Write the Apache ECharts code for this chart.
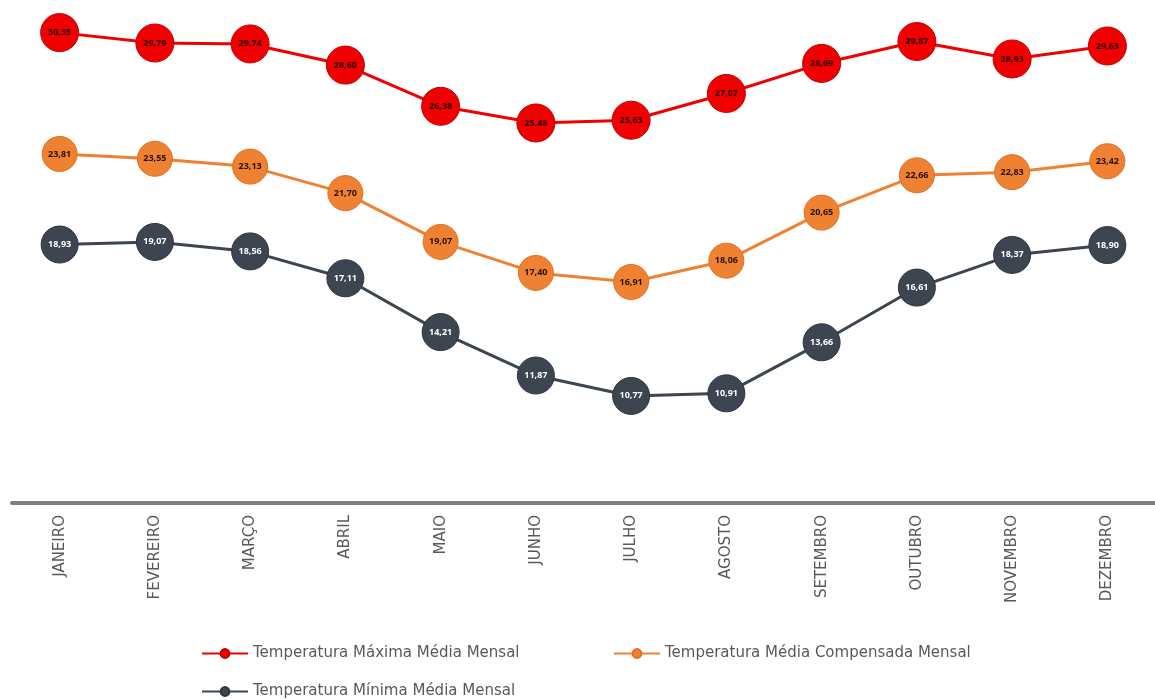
<!DOCTYPE html>
<html>
<head>
<meta charset="utf-8">
<script src="https://cdn.jsdelivr.net/npm/echarts@6/dist/echarts.min.js"></script>
<style>
  html, body { margin: 0; padding: 0; background: #ffffff; }
  #chart { width: 1155px; height: 700px; }
</style>
</head>
<body>
<div id="chart"></div>
<script>
// Monthly temperature normals (°C)
const months = ['JANEIRO', 'FEVEREIRO', 'MARÇO', 'ABRIL', 'MAIO', 'JUNHO', 'JULHO', 'AGOSTO', 'SETEMBRO', 'OUTUBRO', 'NOVEMBRO', 'DEZEMBRO'];
const tempMax = [30.35, 29.79, 29.74, 28.60, 26.38, 25.48, 25.63, 27.07, 28.69, 29.87, 28.93, 29.63];
const tempMed = [23.81, 23.55, 23.13, 21.70, 19.07, 17.40, 16.91, 18.06, 20.65, 22.66, 22.83, 23.42];
const tempMin = [18.93, 19.07, 18.56, 17.11, 14.21, 11.87, 10.77, 10.91, 13.66, 16.61, 18.37, 18.90];

const nameMax = 'Temperatura Máxima Média Mensal';
const nameMed = 'Temperatura Média Compensada Mensal';
const nameMin = 'Temperatura Mínima Média Mensal';

const fmt = p => p.value.toFixed(2).replace('.', ',');

function lineSeries(name, data, color, border, labelColor, size) {
  return {
    name: name,
    type: 'line',
    data: data,
    symbol: 'circle',
    symbolSize: size,
    lineStyle: { color: color, width: 3 },
    itemStyle: { color: color, borderColor: border, borderWidth: 1 },
    label: {
      show: true,
      position: 'inside',
      formatter: fmt,
      color: labelColor,
      fontFamily: 'Open Sans',
      fontWeight: 'bold',
      fontSize: 9
    },
    emphasis: { disabled: true },
    animation: false
  };
}

const legendText = { color: '#595959', fontFamily: 'DejaVu Sans', fontSize: 15 };
function legendAt(name, left, top) {
  return {
    data: [name],
    left: left,
    top: top,
    itemWidth: 46,
    itemHeight: 11,
    itemGap: 4,
    textStyle: legendText,
    selectedMode: false
  };
}

const chart = echarts.init(document.getElementById('chart'), null, { renderer: 'canvas' });
chart.setOption({
  backgroundColor: '#ffffff',
  grid: { left: 12, width: 1154, top: 2, height: 501 },
  xAxis: {
    type: 'category',
    data: months,
    boundaryGap: true,
    axisLine: { show: true, lineStyle: { color: '#7f7f7f', width: 4 } },
    axisTick: { show: false },
    axisLabel: {
      interval: 0,
      rotate: 90,
      margin: 12,
      color: '#595959',
      fontFamily: 'DejaVu Sans',
      fontSize: 15
    }
  },
  yAxis: {
    type: 'value',
    min: 5,
    max: 32,
    show: false,
    splitLine: { show: false }
  },
  legend: [
    legendAt(nameMax, 196, 641),
    legendAt(nameMed, 608, 641),
    legendAt(nameMin, 196, 679)
  ],
  series: [
    lineSeries(nameMax, tempMax, '#f00000', '#c00000', '#2a0000', 38),
    lineSeries(nameMed, tempMed, '#ef8133', '#e0701f', '#2a1000', 35),
    lineSeries(nameMin, tempMin, '#3c4550', '#2e3640', '#ffffff', 37)
  ]
});
</script>
</body>
</html>
